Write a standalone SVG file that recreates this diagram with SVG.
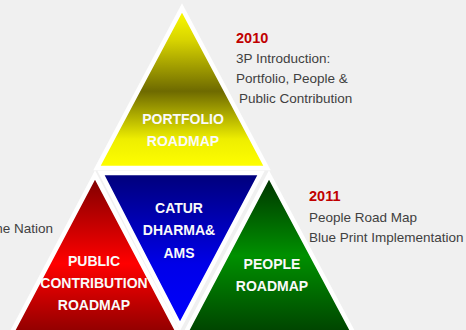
<svg xmlns="http://www.w3.org/2000/svg" width="466" height="330" viewBox="0 0 466 330">
<defs>
<linearGradient id="gY" x1="0" y1="0" x2="0" y2="1">
<stop offset="0" stop-color="#ffff00"/>
<stop offset="0.2" stop-color="#d8d400"/>
<stop offset="0.52" stop-color="#6e6a00"/>
<stop offset="0.82" stop-color="#eeee00"/>
<stop offset="1" stop-color="#ffff00"/>
</linearGradient>
<linearGradient id="gB" x1="0" y1="0" x2="0" y2="1">
<stop offset="0" stop-color="#00007a"/>
<stop offset="0.6" stop-color="#0000e8"/>
<stop offset="1" stop-color="#0000ff"/>
</linearGradient>
<linearGradient id="gR" x1="0" y1="0" x2="0" y2="1">
<stop offset="0" stop-color="#7a0000"/>
<stop offset="0.55" stop-color="#ff0000"/>
<stop offset="1" stop-color="#8a0000"/>
</linearGradient>
<linearGradient id="gG" x1="0" y1="0" x2="0" y2="1">
<stop offset="0" stop-color="#003000"/>
<stop offset="0.5" stop-color="#009000"/>
<stop offset="1" stop-color="#004000"/>
</linearGradient>
</defs>
<style>
.tri{stroke:#ffffff;stroke-width:4.5;stroke-linejoin:miter}
.lbl{font-family:"Liberation Sans",Arial,sans-serif;font-size:14px;font-weight:bold;fill:#fafafa;text-anchor:middle}
.note{font-family:"Liberation Sans",Arial,sans-serif;font-size:13.5px;fill:#404040}
.year{font-family:"Liberation Sans",Arial,sans-serif;font-size:14.5px;font-weight:bold;fill:#c00000}
</style>
<rect x="0" y="0" width="466" height="330" fill="#f0f0f0"/>
<g id="portfolio">
<polygon class="tri" points="182,8 267,168 97,168" fill="url(#gY)"/>
<text class="lbl" x="183" y="124">PORTFOLIO</text>
<text class="lbl" x="183" y="146">ROADMAP</text>
</g>
<g id="catur">
<polygon class="tri" points="101,173 261,173 180,326" fill="url(#gB)"/>
<text class="lbl" x="179" y="213">CATUR</text>
<text class="lbl" x="179" y="235">DHARMA&amp;</text>
<text class="lbl" x="179" y="258">AMS</text>
</g>
<g id="public">
<polygon class="tri" points="95,175 180,336 10,336" fill="url(#gR)"/>
<text class="lbl" x="94" y="266">PUBLIC</text>
<text class="lbl" x="94" y="288">CONTRIBUTION</text>
<text class="lbl" x="94" y="310">ROADMAP</text>
</g>
<g id="people">
<polygon class="tri" points="269,175 355,336 184,336" fill="url(#gG)"/>
<text class="lbl" x="272" y="269">PEOPLE</text>
<text class="lbl" x="272" y="291">ROADMAP</text>
</g>
<g id="note2010">
<text class="year" x="236" y="43">2010</text>
<text class="note" x="236" y="63">3P Introduction:</text>
<text class="note" x="236" y="83">Portfolio, People &amp;</text>
<text class="note" x="239" y="103">Public Contribution</text>
</g>
<g id="note2011">
<text class="year" x="309" y="201">2011</text>
<text class="note" x="309" y="222">People Road Map</text>
<text class="note" x="309" y="242">Blue Print Implementation</text>
</g>
<g id="noteNation">
<text class="note" x="53" y="233" text-anchor="end">the Nation</text>
</g>
</svg>
